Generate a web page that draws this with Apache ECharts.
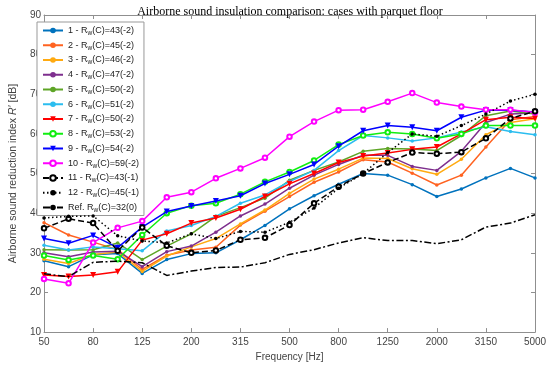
<!DOCTYPE html>
<html>
<head>
<meta charset="utf-8">
<script src="https://cdn.jsdelivr.net/npm/echarts@6/dist/echarts.min.js"></script>
<style>html,body{margin:0;padding:0;background:#fff}#c{width:550px;height:367px}</style>
</head>
<body>
<div id="c"></div>
<script>
const freqs = ['50','63','80','100','125','160','200','250','315','400','500','630','800','1000','1250','1600','2000','2500','3150','4000','5000'];
const yTicks = [10, 90, 10]; // min, max, interval

const seriesNames = ['1 - R_w(C)=43(-2)','2 - R_w(C)=45(-2)','3 - R_w(C)=46(-2)','4 - R_w(C)=47(-2)','5 - R_w(C)=50(-2)','6 - R_w(C)=51(-2)','7 - R_w(C)=50(-2)','8 - R_w(C)=53(-2)','9 - R_w(C)=54(-2)','10 - R_w(C)=59(-2)','11 - R_w(C)=43(-1)','12 - R_w(C)=45(-1)','Ref. R_w(C)=32(0)'];

const s1  = [28.0,26.5,29.5,29.8,24.8,28.3,29.8,30.0,33.3,36.9,41.1,44.4,47.3,50.0,49.6,47.2,44.2,46.1,48.9,51.3,48.9];
const s2  = [37.6,34.5,32.7,30.8,25.8,29.4,30.7,31.4,37.0,40.5,44.2,47.8,50.4,53.5,52.9,50.1,47.1,49.6,56.7,63.6,64.4];
const s3  = [28.4,27.3,29.6,30.2,25.3,29.2,31.5,33.6,37.3,40.8,45.0,48.6,51.1,53.9,53.8,51.2,49.8,53.6,59.8,62.9,63.8];
const s4  = [30.0,29.0,30.2,30.4,26.5,30.3,31.7,35.2,39.3,42.3,46.3,49.6,52.3,54.6,54.6,51.8,50.8,55.6,62.9,65.0,65.3];
const s5  = [30.8,30.7,30.8,32.5,28.3,31.7,34.8,39.2,41.4,43.8,48.3,50.8,52.9,55.6,56.3,56.2,55.8,59.6,64.6,65.8,65.0];
const s6  = [31.9,30.7,31.5,31.0,30.5,35.5,36.9,39.2,42.5,44.6,48.0,50.8,55.8,59.6,59.0,58.2,59.0,60.5,61.8,60.6,59.8];
const s7  = [24.4,24.0,24.4,25.2,33.2,34.8,37.5,38.8,41.0,44.2,47.4,50.0,52.8,54.4,55.2,56.1,56.7,60.0,63.6,64.2,63.9];
const s8  = [29.3,28.2,29.3,28.4,34.5,40.0,41.9,42.5,44.8,47.9,50.4,53.3,57.3,59.6,60.4,60.0,58.9,60.0,62.1,62.1,62.1];
const s9  = [33.6,32.4,34.4,31.3,36.5,40.4,41.8,43.1,44.4,47.5,49.8,52.3,56.9,60.8,62.1,61.7,60.8,64.2,66.0,66.0,65.5];
const s10 = [23.4,22.3,32.6,36.3,38.0,44.0,45.3,48.8,51.3,54.0,59.3,63.1,66.0,66.1,68.1,70.3,67.9,66.9,66.1,66.1,65.4];
const s11 = [36.2,38.6,37.5,30.5,36.4,31.8,30.0,30.6,33.3,33.8,37.0,42.5,46.7,50.0,52.8,55.3,55.0,55.4,58.9,63.9,65.7];
const s12 = [38.8,39.2,39.3,34.3,33.0,32.5,34.8,33.6,35.4,35.2,37.7,41.3,46.3,50.0,55.3,60.0,59.4,62.1,65.0,68.3,70.0];
const sRef = [24.7,24.0,27.6,27.9,27.5,24.3,25.4,26.3,26.4,27.5,29.6,30.8,32.5,33.8,33.1,33.1,32.3,33.3,36.5,37.5,39.6];

const allData = [s1,s2,s3,s4,s5,s6,s7,s8,s9,s10,s11,s12,sRef];
const colors = ['#0072BD','#FF6321','#FFAA11','#7E2F8E','#5EA526','#2BBDEF','#FF0000','#11EE11','#0000FF','#FF00FF','#000000','#000000','#000000'];

function styleFor(i){
  if (i===6 || i===8) return {symbol:'triangle', symbolSize:6, rotate:180, lineType:'solid'};
  if (i===7 || i===9) return {symbol:'emptyCircle', symbolSize:4.5, lineType:'solid'};
  if (i===10) return {symbol:'emptyCircle', symbolSize:4.5, lineType:[6,3]};
  if (i===11) return {symbol:'circle', symbolSize:3.5, lineType:[1.5,2.5]};
  if (i===12) return {symbol:'none', symbolSize:0, lineType:[7,2.5,2,2.5]};
  return {symbol:'circle', symbolSize:3.5, lineType:'solid'};
}

const series = allData.map((d,i)=>{
  const st = styleFor(i);
  return {
    name: seriesNames[i],
    type:'line',
    data:d,
    symbol: st.symbol,
    symbolSize: st.symbolSize,
    symbolRotate: st.rotate || 0,
    showSymbol: st.symbol!=='none',
    lineStyle:{color:colors[i], width:1.5, type:st.lineType},
    itemStyle:{color:colors[i], borderColor:colors[i], borderWidth: st.symbol==='emptyCircle'?1.3:0},
    emphasis:{disabled:true},
    animation:false,
    z: 2 + i
  };
});

const axisGray = '#8f8f8f';
const labelGray = '#444';

const chart = echarts.init(document.getElementById('c'), null, {renderer:'canvas'});
chart.setOption({
  backgroundColor:'#fff',
  animation:false,
  title:{
    text:'Airborne sound insulation comparison: cases with parquet floor',
    left:285, top:1, textAlign:'center',
    textStyle:{fontFamily:'Liberation Serif', fontSize:12, fontWeight:'normal', color:'#000'}
  },
  grid:{left:30, right:15, top:15, bottom:32, containLabel:false},
  legend:{
    orient:'vertical', left:37, top:22,
    padding:[4,5,2,5],
    backgroundColor:'#fff', borderColor:'#999', borderWidth:1,
    itemWidth:20, itemHeight:7, itemGap:4.25,
    data: seriesNames,
    formatter: function(name){
      const parts = name.split('R_w');
      return '{t|' + parts[0] + 'R}{s|w}{t|' + parts[1] + '}';
    },
    textStyle:{
      fontFamily:'Liberation Sans', fontSize:9, color:'#222',
      rich:{
        t:{fontFamily:'Liberation Sans', fontSize:9, color:'#222', lineHeight:12},
        s:{fontFamily:'Liberation Sans', fontSize:6.5, color:'#222', lineHeight:6, verticalAlign:'bottom'}
      }
    }
  },
  xAxis:[{
    type:'category', data:freqs, boundaryGap:false, position:'bottom',
    name:'Frequency [Hz]', nameLocation:'middle', nameGap:17,
    nameTextStyle:{fontFamily:'Liberation Sans', fontSize:10, color:labelGray},
    axisLine:{lineStyle:{color:axisGray, width:1}},
    axisTick:{inside:true, length:4, interval:1, lineStyle:{color:axisGray}},
    axisLabel:{interval:1, margin:5, fontFamily:'Liberation Sans', fontSize:10, color:labelGray},
    splitLine:{show:false}
  },{
    type:'category', data:freqs, boundaryGap:false, position:'top',
    axisLine:{lineStyle:{color:axisGray, width:1}},
    axisTick:{inside:true, length:4, interval:1, lineStyle:{color:axisGray}},
    axisLabel:{show:false},
    splitLine:{show:false}
  }],
  yAxis:[{
    type:'value', min:yTicks[0], max:yTicks[1], interval:yTicks[2], position:'left',
    name:'{n|Airborne sound reduction index }{i|R\u2032}{n| [dB]}', nameLocation:'middle', nameGap:17, nameRotate:90,
    nameTextStyle:{fontFamily:'Liberation Sans', fontSize:10.5, color:labelGray,
      rich:{n:{fontFamily:'Liberation Sans', fontSize:10.5, color:labelGray}, i:{fontFamily:'Liberation Sans', fontSize:10.5, fontStyle:'italic', color:labelGray}}},
    axisLine:{show:true, lineStyle:{color:axisGray, width:1}},
    axisTick:{show:true, inside:true, length:4, lineStyle:{color:axisGray}},
    axisLabel:{margin:3, fontFamily:'Liberation Sans', fontSize:10, color:labelGray},
    splitLine:{show:false}
  },{
    type:'value', min:yTicks[0], max:yTicks[1], interval:yTicks[2], position:'right',
    axisLine:{show:true, lineStyle:{color:axisGray, width:1}},
    axisTick:{show:true, inside:true, length:4, lineStyle:{color:axisGray}},
    axisLabel:{show:false},
    splitLine:{show:false}
  }],
  series: series
});
</script>
</body>
</html>
